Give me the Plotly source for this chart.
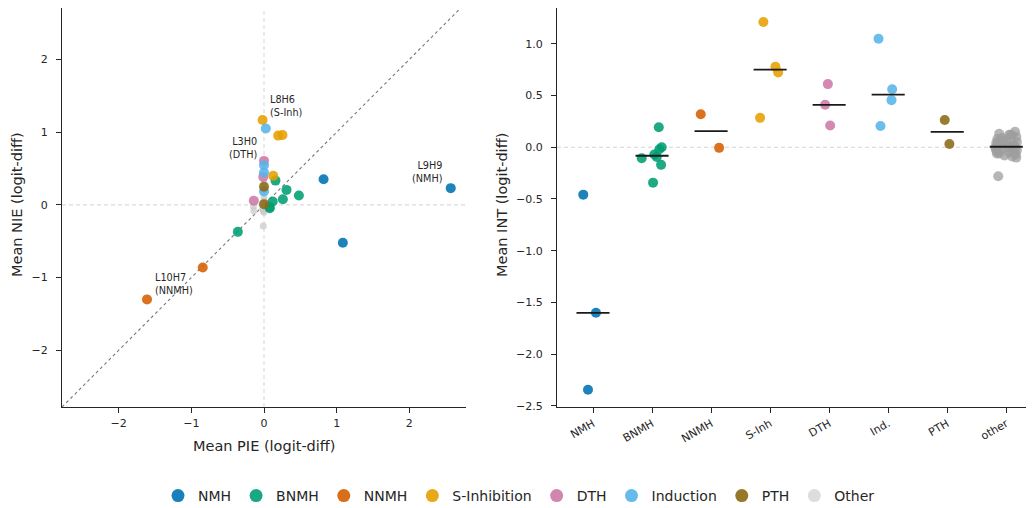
import numpy as np
import plotly.graph_objects as go

# ---------------- data ----------------
groups = ["NMH", "BNMH", "NNMH", "S-Inhibition", "DTH", "Induction", "PTH", "Other"]
short_labels = ["NMH", "BNMH", "NNMH", "S-Inh", "DTH", "Ind.", "PTH", "other"]
colors = ["#0072B2", "#009E73", "#D55E00", "#E69F00", "#CC79A7", "#56B4E9", "#8B6914", "#c8c8c8"]

# left panel: mean PIE / mean NIE per head
pie_nmh = [0.82, 2.57, 1.085]
nie_nmh = [0.353, 0.23, -0.52]
pie_bnmh = [0.158, 0.31, 0.48, 0.26, 0.12, 0.076, 0.08, -0.36]
nie_bnmh = [0.334, 0.206, 0.128, 0.078, 0.046, -0.028, -0.046, -0.371]
pie_nnmh = [-0.843, -1.61]
nie_nnmh = [-0.862, -1.30]
pie_sinh = [-0.02, 0.195, 0.255, 0.127]
nie_sinh = [1.168, 0.953, 0.962, 0.40]
pie_dth = [0.0, -0.01, -0.14]
nie_dth = [0.605, 0.385, 0.058]
pie_ind = [0.025, 0.0, 0.0, 0.0]
nie_ind = [1.05, 0.545, 0.445, 0.185]
pie_pth = [0.0, 0.0]
nie_pth = [0.25, 0.01]
pie_other = [0.0, 0.0, 0.0, 0.0, -0.01, -0.145, -0.14, -0.01, -0.01, 0.01, -0.02, 0.0]
nie_other = [0.3, 0.2, 0.1, 0.05, 0.0, -0.02, -0.08, -0.08, -0.29, -0.03, -0.05, -0.1]

# labelled heads
ann_labels = ["L8H6<br>(S-Inh)", "L3H0<br>(DTH)", "L9H9<br>(NMH)", "L10H7<br>(NNMH)"]
ann_pie = [-0.02, 0.0, 2.57, -1.61]
ann_nie = [1.168, 0.605, 0.23, -1.30]

# right panel: mean INT per head, with strip jitter offsets (category units)
int_nmh = [-0.458, -1.60, -2.343]
jit_nmh = [-0.165, 0.05, -0.085]
int_bnmh = [0.194, 0.0, -0.02, -0.07, -0.094, -0.107, -0.17, -0.342]
jit_bnmh = [0.114, 0.164, 0.124, 0.039, 0.08, -0.175, 0.153, 0.017]
int_nnmh = [0.319, -0.006]
jit_nnmh = [-0.175, 0.136]
int_sinh = [1.21, 0.777, 0.723, 0.284]
jit_sinh = [-0.114, 0.09, 0.136, -0.17]
int_dth = [0.61, 0.41, 0.21]
jit_dth = [-0.022, -0.068, 0.017]
int_ind = [1.048, 0.561, 0.455, 0.206]
jit_ind = [-0.164, 0.068, 0.056, -0.13]
int_pth = [0.264, 0.032]
jit_pth = [-0.042, 0.037]
int_other = [0.15, 0.12, 0.13, 0.10, 0.08, 0.11, 0.06, 0.05, 0.04, 0.03, 0.02, 0.01,
             0.0, 0.0, -0.01, -0.02, -0.03, -0.04, -0.05, -0.06, -0.07, -0.08, -0.09,
             -0.10, 0.07, 0.09, -0.02, 0.02, 0.05, -0.05, 0.12, 0.0, -0.06, -0.28]
jit_other = [0.15, 0.05, -0.12, 0.17, -0.15, 0.10, -0.05, 0.18, -0.17, 0.02, 0.12, -0.10,
             -0.18, 0.08, 0.15, -0.08, 0.18, -0.15, 0.05, -0.12, 0.16, -0.03, 0.10,
             0.17, 0.00, -0.07, -0.18, 0.14, -0.14, 0.12, 0.08, 0.03, -0.16, -0.136]

pies = [pie_nmh, pie_bnmh, pie_nnmh, pie_sinh, pie_dth, pie_ind, pie_pth, pie_other]
nies = [nie_nmh, nie_bnmh, nie_nnmh, nie_sinh, nie_dth, nie_ind, nie_pth, nie_other]
ints = [int_nmh, int_bnmh, int_nnmh, int_sinh, int_dth, int_ind, int_pth, int_other]
jits = [jit_nmh, jit_bnmh, jit_nnmh, jit_sinh, jit_dth, jit_ind, jit_pth, jit_other]

# ---------------- figure ----------------
FONT = "DejaVu Sans"
TXT = "#262626"
OFF = 8  # page body margin
W, H = 1034 - OFF, 508
ML, MR, MT = 62 - OFF, 0, 0
MB = H - (407 - OFF)
PW, PH = W - ML - MR, H - MT - MB


def px_x(px):
    return (px - OFF - ML) / PW


def px_y(py):
    return (H - MB - (py - OFF)) / PH


fig = go.Figure()

order = [7, 0, 1, 2, 3, 4, 5, 6]
for gi in order:
    is_other = gi == 7
    fig.add_trace(go.Scatter(
        x=pies[gi], y=nies[gi], mode="markers", xaxis="x", yaxis="y",
        marker=dict(color=colors[gi], size=7 if is_other else 10,
                    opacity=0.7 if is_other else 0.88, line=dict(width=0)),
        showlegend=False, hoverinfo="skip"))

for gi in range(8):
    is_other = gi == 7
    xs = [gi + j for j in jits[gi]]
    fig.add_trace(go.Scatter(
        x=xs, y=ints[gi], mode="markers", xaxis="x2", yaxis="y2",
        marker=dict(color="#9e9e9e" if is_other else colors[gi], size=10,
                    opacity=0.75 if is_other else 0.88, line=dict(width=0)),
        showlegend=False, hoverinfo="skip"))
    med = float(np.median(ints[gi]))
    fig.add_trace(go.Scatter(
        x=[gi - 0.28, gi + 0.28], y=[med, med], mode="lines", xaxis="x2", yaxis="y2",
        line=dict(color="#1a1a1a", width=1.8), showlegend=False, hoverinfo="skip"))

for gi in range(8):
    fig.add_trace(go.Scatter(
        x=[None], y=[None], mode="markers", name=groups[gi],
        marker=dict(color=colors[gi] if gi < 7 else "#d9d9d9", size=13, opacity=0.9),
        xaxis="x", yaxis="y", showlegend=True))

XLIM = 2.78
YTOP = (205 - OFF) / 72.75   # value at the top edge of the visible plot
YBOT = -2.78
shapes = [
    dict(type="line", xref="x", yref="y", x0=YBOT, y0=YBOT, x1=YTOP, y1=YTOP,
         line=dict(color="#777777", width=1.1, dash="dot"), layer="below"),
    dict(type="line", xref="x", yref="y", x0=0, y0=YBOT, x1=0, y1=YTOP,
         line=dict(color="#d0d0d0", width=0.9, dash="4px,3px"), layer="below"),
    dict(type="line", xref="x", yref="y", x0=-XLIM, y0=0, x1=XLIM, y1=0,
         line=dict(color="#d0d0d0", width=0.9, dash="4px,3px"), layer="below"),
    dict(type="line", xref="x2 domain", yref="y2", x0=0, y0=0, x1=1, y1=0,
         line=dict(color="#d0d0d0", width=0.9, dash="4px,3px"), layer="below"),
]

annotations = []
ann_cfg = [
    dict(xanchor="left", align="left", xshift=5, yshift=0),
    dict(xanchor="right", align="right", xshift=-5, yshift=-1),
    dict(xanchor="right", align="right", xshift=-7, yshift=2),
    dict(xanchor="left", align="left", xshift=6, yshift=1),
]
for lab, ax_, ay_, cfg in zip(ann_labels, ann_pie, ann_nie, ann_cfg):
    annotations.append(dict(
        x=ax_, y=ay_, xref="x", yref="y", text=lab, showarrow=False,
        yanchor="bottom", font=dict(family=FONT, size=9.7, color=TXT), **cfg))

title_font = dict(family=FONT, size=14.5, color=TXT)
annotations += [
    dict(x=px_x(264), y=px_y(446), xref="paper", yref="paper", text="Mean PIE (logit-diff)",
         showarrow=False, font=title_font, xanchor="center", yanchor="middle"),
    dict(x=px_x(17), y=px_y(205), xref="paper", yref="paper", text="Mean NIE (logit-diff)",
         showarrow=False, font=title_font, textangle=-90, xanchor="center", yanchor="middle"),
    dict(x=px_x(502), y=px_y(205), xref="paper", yref="paper", text="Mean INT (logit-diff)",
         showarrow=False, font=title_font, textangle=-90, xanchor="center", yanchor="middle"),
]

axis_common = dict(showline=True, linecolor=TXT, linewidth=1.25, mirror=False,
                   showgrid=False, zeroline=False, ticks="outside", ticklen=5,
                   tickwidth=1.25, tickcolor=TXT, automargin=False,
                   tickfont=dict(family=FONT, size=11, color=TXT))

fig.update_layout(
    width=W, height=H,
    margin=dict(l=ML, r=MR, t=MT, b=MB, pad=0, autoexpand=False),
    paper_bgcolor="white", plot_bgcolor="white",
    font=dict(family=FONT, color=TXT),
    xaxis=dict(domain=[0, px_x(466)], range=[-XLIM, XLIM], anchor="y",
               tickvals=[-2, -1, 0, 1, 2], ticklabelstandoff=1, **axis_common),
    yaxis=dict(domain=[0, 1], range=[YBOT, YTOP], anchor="x",
               tickvals=[-2, -1, 0, 1, 2], ticklabelstandoff=6, **axis_common),
    xaxis2=dict(domain=[px_x(557), 1], range=[-0.61, 7.47], anchor="y2",
                tickvals=list(range(8)), ticktext=short_labels, tickangle=-30,
                ticklabelstandoff=0, **axis_common),
    yaxis2=dict(domain=[0, 1], range=[-2.51, (147 - OFF) / 103.3], anchor="x2",
                tickvals=[-2.5, -2.0, -1.5, -1.0, -0.5, 0.0, 0.5, 1.0], tickformat=".1f",
                ticklabelstandoff=6, **axis_common),
    shapes=shapes,
    annotations=annotations,
    showlegend=True,
    legend=dict(orientation="h", x=px_x(519), y=px_y(496), xanchor="center", yanchor="middle",
                font=dict(family=FONT, size=14, color=TXT), bgcolor="rgba(0,0,0,0)",
                itemsizing="trace", tracegroupgap=0),
)

fig.write_html("out.html")
